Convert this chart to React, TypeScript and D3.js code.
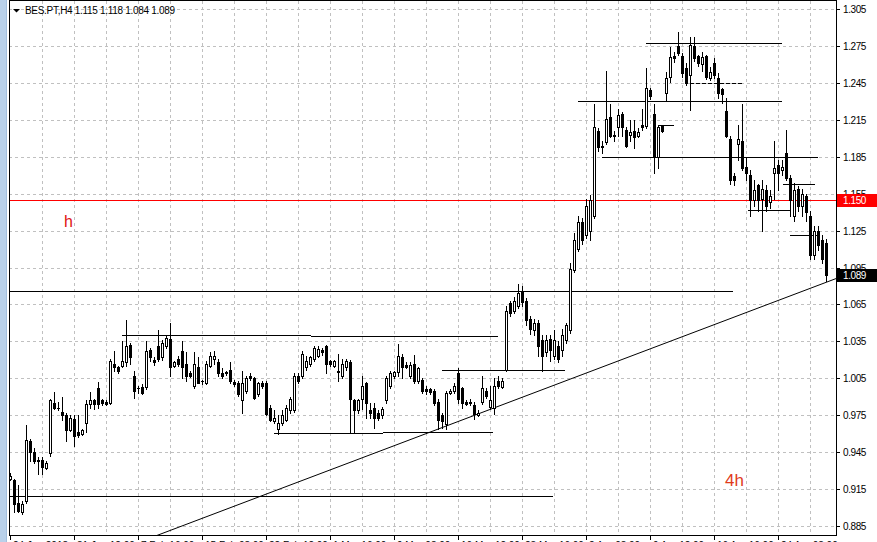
import React from 'react';
import * as d3 from 'd3';

const symbol = 'BES.PT';
const timeframe = 'H4';

const opens = [
  0.923, 0.922, 0.904, 0.896, 0.905, 0.954, 0.945, 0.939, 0.939, 0.932,
  0.944, 0.985, 0.981, 0.978, 0.975, 0.963, 0.972, 0.961, 0.960, 0.969,
  0.984, 0.987, 0.997, 0.987, 0.986, 0.985, 1.017, 1.014, 1.015, 1.018,
  1.032, 1.007, 0.997, 0.998, 0.998, 1.028, 1.020, 1.031, 1.022, 1.031,
  1.037, 1.015, 1.021, 1.027, 1.017, 1.009, 0.999, 1.014, 1.003, 1.001,
  1.015, 1.021, 1.018, 1.009, 1.010, 1.012, 1.002, 1.001, 0.987, 0.995,
  1.007, 1.005, 0.992, 1.001, 1.001, 0.981, 0.970, 0.964, 0.969, 0.971,
  0.979, 0.979, 1.007, 1.007, 1.014, 1.017, 1.021, 1.023, 1.028, 1.031,
  1.019, 1.015, 1.011, 1.007, 1.014, 1.018, 0.987, 0.979, 0.988, 1.001,
  0.979, 0.981, 0.977, 0.975, 0.987, 0.999, 1.007, 1.010, 1.022, 1.016,
  1.007, 1.017, 1.003, 1.004, 0.996, 0.996, 0.995, 0.986, 0.975, 0.968,
  0.993, 0.995, 1.009, 0.997, 0.986, 0.986, 0.983, 0.975, 0.986, 0.995,
  0.982, 0.981, 1.003, 0.998, 1.012, 1.066, 1.060, 1.064, 1.075, 1.068,
  1.053, 1.044, 1.050, 1.036, 1.026, 1.037, 1.023, 1.031, 1.028, 1.036,
  1.044, 1.093, 1.110, 1.132, 1.121, 1.125, 1.137, 1.206, 1.194, 1.197,
  1.217, 1.203, 1.209, 1.220, 1.207, 1.203, 1.206, 1.202, 1.211, 1.210,
  1.239, 1.220, 1.185, 1.210, 1.237, 1.250, 1.267, 1.275, 1.267, 1.257,
  1.251, 1.275, 1.267, 1.260, 1.267, 1.249, 1.261, 1.249, 1.240, 1.222,
  1.199, 1.169, 1.195, 1.198, 1.177, 1.170, 1.150, 1.162, 1.151, 1.158,
  1.148, 1.172, 1.178, 1.174, 1.188, 1.168, 1.137, 1.159, 1.145, 1.153,
  1.137, 1.105, 1.125, 1.117, 1.115,
];

const highs = [
  0.928, 0.923, 0.918, 0.905, 0.967, 0.956, 0.948, 0.941, 0.941, 0.938,
  0.988, 0.994, 0.986, 0.990, 0.977, 0.975, 0.975, 0.975, 0.964, 0.987,
  0.994, 0.988, 1.002, 0.988, 0.987, 1.021, 1.027, 1.015, 1.035, 1.052,
  1.034, 1.011, 0.999, 1.000, 1.035, 1.030, 1.022, 1.044, 1.036, 1.040,
  1.050, 1.019, 1.023, 1.035, 1.026, 1.011, 1.026, 1.022, 1.004, 1.019,
  1.026, 1.027, 1.021, 1.013, 1.011, 1.018, 1.004, 1.003, 1.011, 1.007,
  1.009, 1.006, 1.002, 1.003, 1.003, 0.983, 0.979, 0.975, 0.979, 0.983,
  0.990, 1.009, 1.009, 1.027, 1.023, 1.023, 1.031, 1.031, 1.030, 1.032,
  1.020, 1.020, 1.025, 1.021, 1.021, 1.020, 0.988, 0.988, 1.007, 1.002,
  0.985, 0.985, 0.979, 0.982, 1.007, 1.011, 1.011, 1.033, 1.025, 1.018,
  1.018, 1.024, 1.014, 1.005, 0.999, 0.997, 0.996, 0.988, 0.977, 0.995,
  0.996, 1.001, 1.013, 0.998, 0.987, 0.988, 0.986, 0.979, 1.007, 0.997,
  0.999, 1.005, 1.007, 1.005, 1.064, 1.068, 1.071, 1.082, 1.080, 1.070,
  1.056, 1.053, 1.052, 1.040, 1.040, 1.040, 1.044, 1.035, 1.045, 1.050,
  1.099, 1.123, 1.137, 1.135, 1.151, 1.154, 1.228, 1.208, 1.198, 1.255,
  1.228, 1.206, 1.224, 1.221, 1.209, 1.215, 1.215, 1.208, 1.224, 1.257,
  1.241, 1.228, 1.211, 1.211, 1.254, 1.274, 1.270, 1.286, 1.269, 1.261,
  1.282, 1.282, 1.268, 1.270, 1.268, 1.258, 1.265, 1.253, 1.241, 1.233,
  1.202, 1.172, 1.211, 1.228, 1.185, 1.174, 1.166, 1.163, 1.166, 1.162,
  1.158, 1.198, 1.182, 1.182, 1.207, 1.170, 1.164, 1.161, 1.159, 1.155,
  1.141, 1.129, 1.129, 1.121, 1.118,
];

const lows = [
  0.922, 0.896, 0.896, 0.895, 0.904, 0.938, 0.936, 0.927, 0.927, 0.931,
  0.942, 0.980, 0.979, 0.971, 0.954, 0.962, 0.950, 0.957, 0.959, 0.961,
  0.981, 0.980, 0.981, 0.983, 0.983, 0.984, 1.011, 1.009, 1.014, 1.015,
  1.017, 0.989, 0.993, 0.992, 0.996, 1.019, 1.016, 1.019, 1.020, 1.030,
  1.007, 1.014, 1.015, 1.005, 1.003, 1.006, 0.997, 1.001, 1.000, 1.000,
  1.014, 1.017, 1.007, 1.005, 1.008, 1.001, 0.999, 0.991, 0.977, 0.993,
  1.004, 0.988, 0.991, 0.997, 0.975, 0.970, 0.969, 0.960, 0.967, 0.970,
  0.977, 0.978, 1.001, 1.005, 1.012, 1.015, 1.019, 1.022, 1.024, 1.009,
  1.015, 1.014, 1.003, 1.005, 1.012, 0.961, 0.961, 0.977, 0.980, 0.973,
  0.973, 0.965, 0.971, 0.973, 0.985, 0.997, 1.005, 1.007, 1.005, 1.013,
  1.005, 1.001, 1.001, 0.993, 0.992, 0.992, 0.983, 0.964, 0.965, 0.964,
  0.992, 0.993, 0.985, 0.981, 0.983, 0.983, 0.972, 0.974, 0.984, 0.989,
  0.980, 0.976, 0.997, 0.997, 1.011, 1.056, 1.058, 1.062, 1.064, 1.048,
  1.041, 1.040, 1.023, 1.011, 1.023, 1.019, 1.021, 1.018, 1.023, 1.034,
  1.042, 1.091, 1.108, 1.114, 1.119, 1.117, 1.135, 1.190, 1.188, 1.195,
  1.201, 1.198, 1.202, 1.202, 1.193, 1.198, 1.192, 1.201, 1.207, 1.208,
  1.232, 1.172, 1.176, 1.205, 1.231, 1.246, 1.262, 1.268, 1.250, 1.243,
  1.223, 1.263, 1.259, 1.255, 1.248, 1.247, 1.249, 1.233, 1.229, 1.201,
  1.163, 1.162, 1.182, 1.174, 1.166, 1.137, 1.145, 1.141, 1.125, 1.141,
  1.143, 1.151, 1.158, 1.170, 1.166, 1.137, 1.133, 1.141, 1.137, 1.133,
  1.102, 1.102, 1.109, 1.099, 1.084,
];

const closes = [
  0.926, 0.903, 0.897, 0.903, 0.955, 0.945, 0.938, 0.938, 0.933, 0.936,
  0.987, 0.981, 0.981, 0.975, 0.963, 0.973, 0.958, 0.959, 0.963, 0.984,
  0.987, 0.984, 0.984, 0.985, 0.984, 1.019, 1.014, 1.011, 1.019, 1.031,
  1.022, 0.995, 0.997, 0.993, 1.027, 1.022, 1.018, 1.021, 1.034, 1.038,
  1.014, 1.018, 1.017, 1.014, 1.007, 1.007, 1.017, 1.001, 1.003, 1.017,
  1.023, 1.023, 1.009, 1.007, 1.009, 1.003, 1.000, 0.992, 1.001, 1.005,
  1.005, 0.989, 1.001, 0.999, 0.976, 0.971, 0.973, 0.969, 0.975, 0.981,
  0.988, 1.007, 1.003, 1.025, 1.019, 1.022, 1.030, 1.029, 1.026, 1.017,
  1.017, 1.019, 1.010, 1.017, 1.019, 0.988, 0.979, 0.987, 0.999, 0.985,
  0.977, 0.973, 0.973, 0.980, 1.005, 1.009, 1.010, 1.023, 1.014, 1.014,
  1.016, 1.003, 1.013, 0.995, 0.995, 0.994, 0.985, 0.971, 0.970, 0.993,
  0.995, 0.999, 0.988, 0.985, 0.984, 0.985, 0.976, 0.977, 0.997, 0.991,
  0.987, 0.999, 0.999, 1.003, 1.060, 1.058, 1.068, 1.074, 1.067, 1.052,
  1.045, 1.050, 1.031, 1.023, 1.036, 1.028, 1.036, 1.021, 1.040, 1.048,
  1.094, 1.117, 1.132, 1.117, 1.145, 1.150, 1.209, 1.193, 1.193, 1.216,
  1.202, 1.202, 1.219, 1.209, 1.194, 1.205, 1.201, 1.205, 1.209, 1.241,
  1.234, 1.185, 1.209, 1.206, 1.249, 1.266, 1.265, 1.269, 1.253, 1.245,
  1.276, 1.265, 1.261, 1.266, 1.250, 1.254, 1.251, 1.237, 1.236, 1.202,
  1.166, 1.166, 1.199, 1.176, 1.172, 1.150, 1.158, 1.150, 1.159, 1.145,
  1.153, 1.176, 1.172, 1.177, 1.168, 1.150, 1.158, 1.145, 1.155, 1.140,
  1.105, 1.125, 1.113, 1.102, 1.089,
];

const priceTicks = [1.305, 1.275, 1.245, 1.215, 1.185, 1.155, 1.125, 1.095, 1.065, 1.035, 1.005, 0.975, 0.945, 0.915, 0.885];

const timeLabels = [
  '24 Jan 2018', '31 Jan 12:00', '7 Feb 16:00', '15 Feb 08:00', '22 Feb 12:00',
  '1 Mar 16:00', '9 Mar 08:00', '16 Mar 12:00', '23 Mar 16:00', '2 Apr 08:00',
  '9 Apr 12:00', '16 Apr 16:00', '24 Apr 08:00',
];

// horizontal line objects: price level, start bar, end bar
const levelPrices = [1.0762, 0.9094, 1.0404, 1.0396, 0.9607, 0.9615, 1.0120, 1.2773, 1.2301, 1.1845, 1.2106, 1.1625, 1.1414, 1.1218];
const levelFrom = [0, 0, 28, 75.25, 66, 93.25, 108, 159, 142, 148, 162, 193.25, 184.5, 195];
const levelTo = [180.75, 135.75, 75.25, 122, 93.25, 120.75, 138.75, 193, 193, 202, 166, 201.25, 195, 202];
const dashedLevelPrice = [1.2448];
const dashedLevelFrom = [170];
const dashedLevelTo = [183.25];

// trend line anchors (bar index, price)
const trendBars = [35, 206.5];
const trendPrices = [0.8752, 1.086];

const alertPrice = 1.15;

const W = 877;
const H = 542;
const PL = 9;
const PR = 836;
const PT = 1;
const PB = 535;

export default function App() {
  const n = closes.length;
  const x = d3.scaleLinear().domain([0, 1]).range([10, 14]);
  const y = d3.scaleLinear().domain([0.885, 1.305]).range([526, 9]);
  const cx = (i: number) => Math.round(x(i));
  const cy = (p: number) => Math.round(y(p));
  const fmt = d3.format('.3f');
  const last = n - 1;

  const gridX: number[] = [];
  for (let i = 8; x(i) < PR; i += 8) gridX.push(i);
  const tickBars = timeLabels.map((_, k) => k * 16);

  const font = "'Liberation Sans', Arial, sans-serif";
  const trendLine = d3.line<number>()
    .x((_, k) => x(trendBars[k]))
    .y((p) => y(p));

  return (
    <svg width={W} height={H} style={{ position: 'fixed', left: 0, top: 0, background: '#fff' }}>
      <defs>
        <clipPath id="plot">
          <rect x={PL} y={PT} width={PR - PL} height={PB - PT} />
        </clipPath>
      </defs>
      <rect x={0} y={0} width={W} height={H} fill="#fff" />
      <rect x={0} y={0} width={7} height={H} fill="#b9d1ea" />
      <rect x={6} y={0} width={1} height={H} fill="#a3bfdd" />

      {/* grid */}
      <g stroke="#c0c0c0" strokeWidth={1} strokeDasharray="3,3" shapeRendering="crispEdges">
        {priceTicks.map((p) => (
          <line key={p} x1={PL} x2={PR} y1={cy(p) + 0.5} y2={cy(p) + 0.5} />
        ))}
        {gridX.map((i) => (
          <line key={i} x1={cx(i) + 0.5} x2={cx(i) + 0.5} y1={PT} y2={PB} />
        ))}
      </g>

      <g clipPath="url(#plot)">
        {/* alert line */}
        <line x1={PL} x2={PR} y1={cy(alertPrice) + 0.5} y2={cy(alertPrice) + 0.5} stroke="#ff0000" strokeWidth={1} shapeRendering="crispEdges" />

        {/* horizontal objects */}
        <g stroke="#000" strokeWidth={1} shapeRendering="crispEdges">
          {levelPrices.map((p, k) => (
            <line key={k} x1={x(levelFrom[k])} x2={x(levelTo[k])} y1={cy(p) + 0.5} y2={cy(p) + 0.5} />
          ))}
          {dashedLevelPrice.map((p, k) => (
            <line key={'d' + k} x1={x(dashedLevelFrom[k])} x2={x(dashedLevelTo[k])} y1={cy(p) + 0.5} y2={cy(p) + 0.5} strokeDasharray="4,2" />
          ))}
        </g>

        {/* trend line */}
        <path d={trendLine(trendPrices) || ''} fill="none" stroke="#000" strokeWidth={1} />

        {/* candles */}
        <g shapeRendering="crispEdges">
          {closes.map((c, i) => {
            const o = opens[i];
            const X = cx(i);
            const top = cy(Math.max(o, c));
            const bot = cy(Math.min(o, c));
            const hi = cy(highs[i]);
            const lo = cy(lows[i]);
            const bull = c > o;
            return (
              <g key={i}>
                <line x1={X + 0.5} x2={X + 0.5} y1={hi} y2={lo + 1} stroke="#000" />
                {bull ? (
                  <rect x={X - 1 + 0.5} y={top + 0.5} width={2} height={Math.max(bot - top, 1)} fill="#fff" stroke="#000" />
                ) : (
                  <rect x={X - 1} y={top} width={3} height={Math.max(bot - top, 0) + 1} fill="#000" />
                )}
              </g>
            );
          })}
        </g>

        <text x={64} y={227} fill="#e01010" fontFamily={font} fontSize={16}>h</text>
        <text x={725} y={486} fill="#e03a1a" fontFamily={font} fontSize={17}>4h</text>
      </g>

      {/* frame */}
      <g stroke="#000" strokeWidth={1} shapeRendering="crispEdges" fill="none">
        <line x1={PL + 0.5} x2={PL + 0.5} y1={0} y2={PB} />
        <line x1={PR + 0.5} x2={PR + 0.5} y1={0} y2={PB + 1} />
        <line x1={PL} x2={PR + 1} y1={0.5} y2={0.5} />
        <line x1={PL} x2={PR + 1} y1={PB + 0.5} y2={PB + 0.5} />
      </g>

      {/* right price axis */}
      <g fontFamily={font} fontSize={10} fill="#000">
        {priceTicks.map((p) => (
          <g key={p}>
            <line x1={PR} x2={PR + 4} y1={cy(p) + 0.5} y2={cy(p) + 0.5} stroke="#000" shapeRendering="crispEdges" />
            <text x={843} y={cy(p) + 4} letterSpacing={-0.4}>{fmt(p)}</text>
          </g>
        ))}
      </g>
      <rect x={PR + 1} y={cy(alertPrice) - 6} width={W - PR - 1} height={13} fill="#ff0000" />
      <text x={843} y={cy(alertPrice) + 4} fontFamily={font} fontSize={10} fill="#fff" letterSpacing={-0.4}>{fmt(alertPrice)}</text>
      <rect x={PR + 1} y={cy(closes[last]) - 6} width={W - PR - 1} height={13} fill="#000" />
      <text x={843} y={cy(closes[last]) + 4} fontFamily={font} fontSize={10} fill="#fff" letterSpacing={-0.4}>{fmt(closes[last])}</text>

      {/* bottom time axis */}
      <g fontFamily={font} fontSize={10} fill="#000">
        {tickBars.map((b, k) => (
          <g key={b}>
            <line x1={cx(b) + 0.5} x2={cx(b) + 0.5} y1={PB} y2={PB + 5} stroke="#000" shapeRendering="crispEdges" />
            <text x={cx(b) + 3} y={549}>{timeLabels[k]}</text>
          </g>
        ))}
      </g>

      {/* header */}
      <path d="M13,9 L20,9 L16.5,12.5 Z" fill="#000" />
      <text x={25} y={14} fontFamily={font} fontSize={10} fill="#000" letterSpacing={-0.3}>
        {`${symbol},${timeframe}  ${fmt(opens[last])} ${fmt(highs[last])} ${fmt(lows[last])} ${fmt(closes[last])}`}
      </text>
    </svg>
  );
}
